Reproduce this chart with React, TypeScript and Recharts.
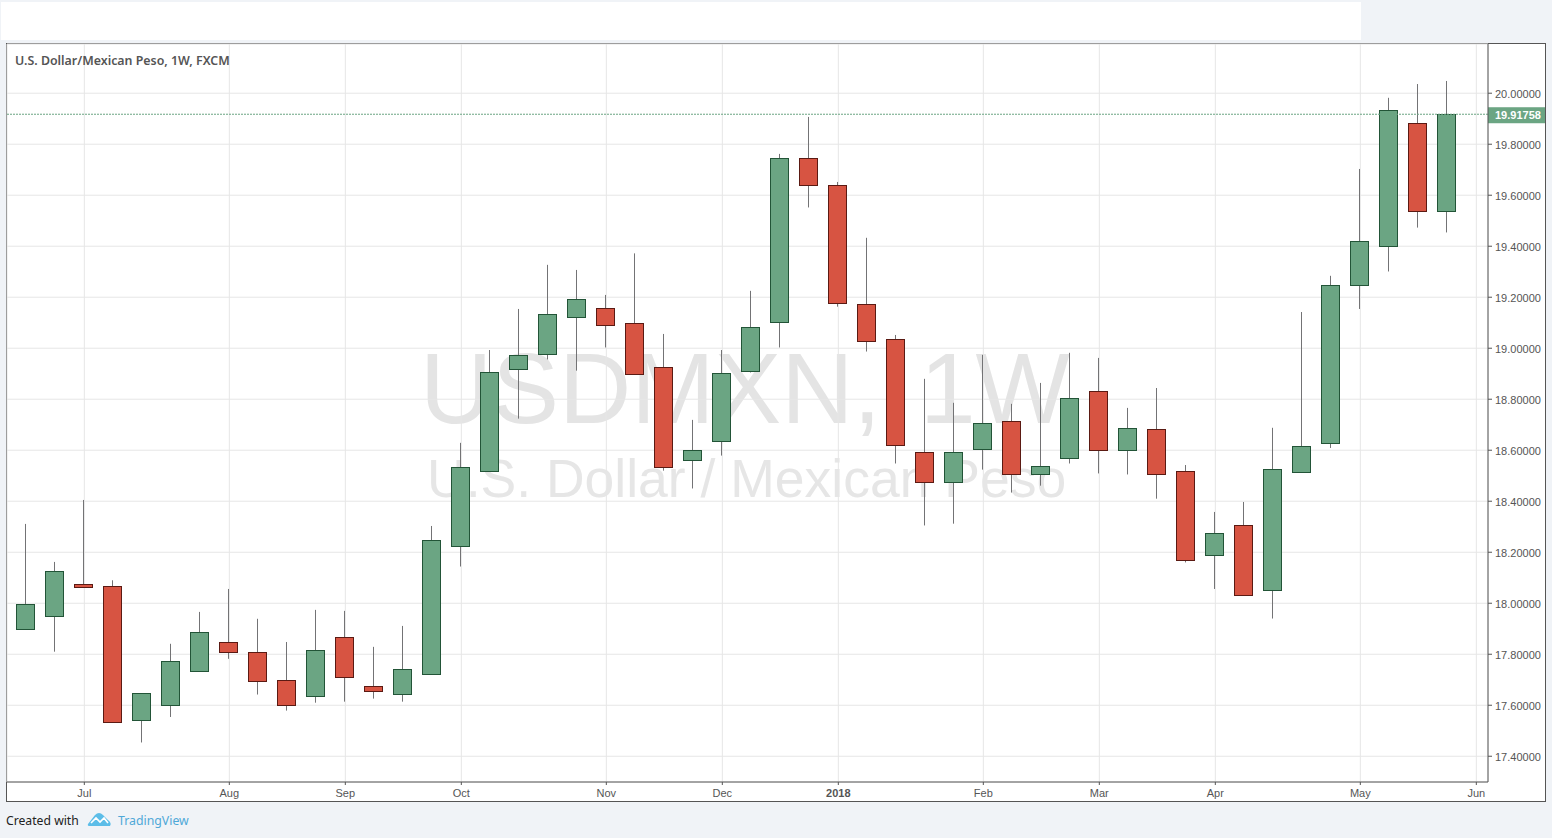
import {
  ComposedChart,
  Bar,
  XAxis,
  YAxis,
  CartesianGrid,
  ReferenceLine,
} from 'recharts';

const weeks = [
  '2017-06-19', '2017-06-26', '2017-07-03', '2017-07-10', '2017-07-17', '2017-07-24', '2017-07-31', '2017-08-07',
  '2017-08-14', '2017-08-21', '2017-08-28', '2017-09-04', '2017-09-11', '2017-09-18', '2017-09-25', '2017-10-02',
  '2017-10-09', '2017-10-16', '2017-10-23', '2017-10-30', '2017-11-06', '2017-11-13', '2017-11-20', '2017-11-27',
  '2017-12-04', '2017-12-11', '2017-12-18', '2017-12-25', '2018-01-01', '2018-01-08', '2018-01-15', '2018-01-22',
  '2018-01-29', '2018-02-05', '2018-02-12', '2018-02-19', '2018-02-26', '2018-03-05', '2018-03-12', '2018-03-19',
  '2018-03-26', '2018-04-02', '2018-04-09', '2018-04-16', '2018-04-23', '2018-04-30', '2018-05-07', '2018-05-14',
  '2018-05-21', '2018-05-28',
];

const opens = [
  17.90, 17.948, 18.075, 18.067, 17.544, 17.599, 17.736, 17.847, 17.808, 17.698,
  17.635, 17.867, 17.675, 17.643, 17.724, 18.223, 18.518, 18.918, 18.976, 19.122,
  19.157, 19.098, 18.926, 18.561, 18.635, 18.91, 19.102, 19.745, 19.639, 19.173,
  19.035, 18.592, 18.475, 18.604, 18.714, 18.506, 18.569, 18.831, 18.6, 18.682,
  18.518, 18.188, 18.306, 18.051, 18.514, 18.628, 19.247, 19.4, 19.882, 19.537,
];
const highs = [
  18.311, 18.162, 18.405, 18.09, 17.647, 17.841, 17.966, 18.056, 17.939, 17.848,
  17.974, 17.97, 17.829, 17.911, 18.303, 18.629, 18.993, 19.154, 19.327, 19.307,
  19.209, 19.372, 19.056, 18.719, 18.993, 19.225, 19.762, 19.907, 19.652, 19.433,
  19.052, 18.88, 18.786, 18.974, 18.782, 18.864, 18.982, 18.962, 18.766, 18.844,
  18.542, 18.358, 18.397, 18.688, 19.142, 19.284, 19.703, 19.982, 20.036, 20.048,
];
const lows = [
  17.90, 17.81, 18.065, 17.533, 17.454, 17.554, 17.736, 17.782, 17.642, 17.579,
  17.61, 17.614, 17.626, 17.614, 17.724, 18.144, 18.518, 18.724, 18.956, 18.912,
  19.003, 18.898, 18.52, 18.45, 18.579, 18.905, 19.003, 19.552, 19.163, 18.987,
  18.548, 18.305, 18.312, 18.524, 18.434, 18.461, 18.548, 18.509, 18.505, 18.41,
  18.16, 18.056, 18.031, 17.94, 18.514, 18.609, 19.154, 19.301, 19.473, 19.454,
];
const closes = [
  17.996, 18.125, 18.065, 17.533, 17.647, 17.773, 17.886, 17.81, 17.697, 17.6,
  17.816, 17.71, 17.654, 17.741, 18.247, 18.533, 18.906, 18.973, 19.133, 19.192,
  19.09, 18.898, 18.533, 18.6, 18.902, 19.082, 19.745, 19.639, 19.176, 19.027,
  18.62, 18.475, 18.592, 18.706, 18.506, 18.537, 18.804, 18.6, 18.686, 18.506,
  18.169, 18.275, 18.031, 18.525, 18.616, 19.247, 19.42, 19.933, 19.537, 19.91758,
];

const priceTicks = [17.4, 17.6, 17.8, 18.0, 18.2, 18.4, 18.6, 18.8, 19.0, 19.2, 19.4, 19.6, 19.8, 20.0];
const monthTicks = [2, 7, 11, 15, 20, 24, 28, 33, 37, 41, 46, 50];
const monthLabels = ['Jul', 'Aug', 'Sep', 'Oct', 'Nov', 'Dec', '2018', 'Feb', 'Mar', 'Apr', 'May', 'Jun'];
const lastPrice = 19.91758;

const UP = '#6ba583';
const DOWN = '#d75442';
const UP_BORDER = '#225437';
const DOWN_BORDER = '#5b1a13';
const WICK = '#737375';
const AXIS = '#555555';
const GRID = '#e6e6e6';
const BG = '#f0f3f7';
const FONT = '"Liberation Sans", Arial, sans-serif';

const data = weeks.map((week, i) => ({
  week,
  index: i,
  open: opens[i],
  high: highs[i],
  low: lows[i],
  close: closes[i],
  range: [lows[i], highs[i]],
}));

const Candle = (props: any) => {
  const {x, y, width, height, payload} = props;
  const {open, high, low, close} = payload;
  const cx = Math.floor(x + width / 2) + 0.5;
  const perUnit = height / (high - low);
  const top = Math.round(y + (high - Math.max(open, close)) * perUnit) + 0.5;
  const bottom = Math.round(y + (high - Math.min(open, close)) * perUnit) + 0.5;
  const up = close >= open;
  return (
    <g>
      <line x1={cx} x2={cx} y1={y} y2={y + height} stroke={WICK} strokeWidth={1} />
      <rect
        x={cx - 9}
        y={top}
        width={18}
        height={Math.max(bottom - top, 1)}
        fill={up ? UP : DOWN}
        stroke={up ? UP_BORDER : DOWN_BORDER}
        strokeWidth={1}
      />
    </g>
  );
};

const MonthTick = (props: any) => {
  const {x, y, payload} = props;
  const label = monthLabels[monthTicks.indexOf(payload.value)];
  return (
    <text
      x={x}
      y={y + 10}
      textAnchor="middle"
      fontFamily={FONT}
      fontSize={11}
      fontWeight={label === '2018' ? 700 : 400}
      fill={AXIS}>
      {label}
    </text>
  );
};

const PriceTick = (props: any) => {
  const {x, y, payload} = props;
  return (
    <text x={x} y={Math.round(y) + 5} fontFamily={FONT} fontSize={11} fill={AXIS}>
      {payload.value.toFixed(5)}
    </text>
  );
};

const PriceTag = (props: any) => {
  const {viewBox} = props;
  const lineY = viewBox.y;
  const left = viewBox.x + viewBox.width;
  return (
    <g>
      <rect x={left} y={lineY - 7} width={57} height={16} fill={UP} />
      <text x={left + 7} y={lineY + 5} fontFamily={FONT} fontSize={11} fontWeight={700} fill="#ffffff">
        {lastPrice.toFixed(5)}
      </text>
    </g>
  );
};

const App = () => (
  <div style={{position: 'absolute', left: 0, top: 0, width: 1552, height: 838, background: BG, overflow: 'hidden'}}>
    <div style={{position: 'absolute', left: 1, top: 2, width: 1360, height: 38, background: '#ffffff'}} />
    <div
      style={{
        position: 'absolute',
        left: 6,
        top: 43,
        width: 1538,
        height: 757,
        background: '#ffffff',
        border: `1px solid ${AXIS}`,
      }}
    />
    {/* watermark goes under the chart svg */}
    <div
      style={{
        position: 'absolute',
        left: 420,
        top: 331,
        fontFamily: FONT,
        fontSize: 100,
        lineHeight: '115px',
        wordSpacing: 11,
        color: '#e4e4e4',
        whiteSpace: 'pre',
      }}>
      USDMXN, 1W
    </div>
    <div
      style={{
        position: 'absolute',
        left: 427,
        top: 448,
        fontFamily: FONT,
        fontSize: 53.5,
        lineHeight: '62px',
        color: '#e6e6e6',
        whiteSpace: 'pre',
      }}>
      U.S. Dollar / Mexican Peso
    </div>
    <div style={{position: 'absolute', left: 0, top: 0}}>
      <ComposedChart
        width={1552}
        height={838}
        data={data}
        margin={{top: 44, right: 7, bottom: 38, left: 7}}>
        <CartesianGrid stroke={GRID} strokeWidth={1} />
        <XAxis
          type="number"
          dataKey="index"
          domain={[-0.666, 50.403]}
          allowDataOverflow
          ticks={monthTicks}
          tick={<MonthTick />}
          tickLine={{stroke: AXIS}}
          tickSize={3}
          axisLine={{stroke: AXIS}}
          interval={0}
          height={18}
        />
        <YAxis
          orientation="right"
          type="number"
          domain={[17.299, 20.193]}
          allowDataOverflow
          ticks={priceTicks}
          tick={<PriceTick />}
          tickLine={{stroke: AXIS}}
          tickSize={4}
          tickMargin={3}
          axisLine={{stroke: AXIS}}
          width={57}
          interval={0}
        />
        <ReferenceLine
          y={lastPrice}
          stroke={UP}
          strokeDasharray="2 1"
          strokeWidth={1}
          label={<PriceTag />}
        />
        <Bar dataKey="range" barSize={18} shape={<Candle />} isAnimationActive={false} />
      </ComposedChart>
    </div>
    <div
      style={{
        position: 'absolute',
        left: 15,
        top: 53,
        fontFamily: '"Noto Sans", sans-serif',
        fontSize: 12.4,
        fontWeight: 600,
        lineHeight: '16px',
        color: '#555555',
        whiteSpace: 'nowrap',
      }}>
      U.S. Dollar/Mexican Peso, 1W, FXCM
    </div>
    <div
      style={{
        position: 'absolute',
        left: 6,
        top: 812,
        fontFamily: '"Noto Sans", sans-serif',
        fontSize: 12.2,
        lineHeight: '18px',
        color: '#222222',
        whiteSpace: 'nowrap',
      }}>
      Created with
    </div>
    <svg style={{position: 'absolute', left: 87, top: 811}} width={25} height={16}>
      <path d="M1 13 L8 4 Q12 0 16 4 L21 9 Q25 12 23 15 L3 15 Q0 15 1 13 Z" fill="#5cbde8" />
      <path d="M4 12 L9 7 L13 11 L17 7 L21 12" fill="none" stroke="#ffffff" strokeWidth={1.6} />
    </svg>
    <div
      style={{
        position: 'absolute',
        left: 118,
        top: 812,
        fontFamily: '"Noto Sans", sans-serif',
        fontSize: 12.3,
        lineHeight: '18px',
        color: '#4fa8d8',
        whiteSpace: 'nowrap',
      }}>
      TradingView
    </div>
  </div>
);

export default App;
